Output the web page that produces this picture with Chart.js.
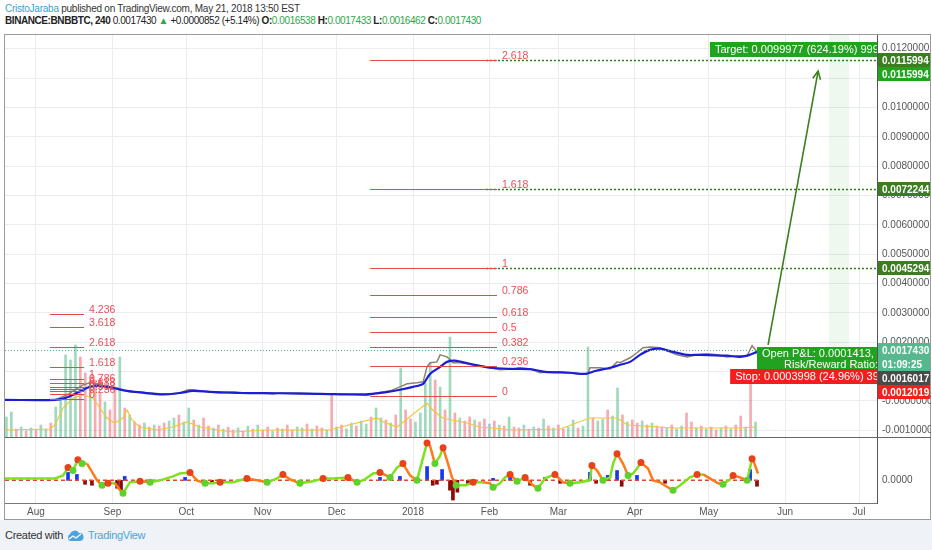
<!DOCTYPE html>
<html>
<head>
<meta charset="utf-8">
<script src="https://cdn.jsdelivr.net/npm/chart.js@4/dist/chart.umd.min.js"></script>
<style>
  html, body { margin: 0; padding: 0; width: 932px; height: 550px; overflow: hidden; background: #fff;
    font-family: "Liberation Sans", Arial, sans-serif; }
  .hdr { position: absolute; left: 5px; white-space: nowrap; color: #333; }
  #hdr1 { top: 3px; font-size: 10px; letter-spacing: -0.25px; }
  #hdr2 { top: 15px; font-size: 10px; letter-spacing: -0.42px; color: #222; }
  .up { color: #2ea84a; }
  #frame { position: absolute; left: 4px; top: 34px; width: 927px; height: 486px; border: 1px solid #9a9a9a; box-sizing: border-box; }
  #wrapA { position: absolute; left: 5px; top: 35px; width: 926px; height: 402px; }
  #wrapB { position: absolute; left: 5px; top: 437px; width: 926px; height: 82px; border-top: 1px solid #666; box-sizing: border-box; }
  #footer { position: absolute; left: 0; top: 520px; width: 932px; height: 30px; background: #eff2f6; }
  #footer span { position: absolute; top: 9px; font-size: 11px; letter-spacing: -0.3px; }
</style>
</head>
<body>
<div id="hdr1" class="hdr"><span style="color:#3a9fd8">CristoJaraba</span> published on TradingView.com, May 21, 2018 13:50 EST</div>
<div id="hdr2" class="hdr"><b>BINANCE:BNBBTC, 240</b> 0.0017430 <span class="up">&#9650;</span> +0.0000852 (+5.14%) <b>O:</b><span class="up">0.0016538</span> <b>H:</b><span class="up">0.0017433</span> <b>L:</b><span class="up">0.0016462</span> <b>C:</b><span class="up">0.0017430</span></div>
<div id="frame"></div>
<div id="wrapA"><canvas id="main"></canvas></div>
<div id="wrapB"><canvas id="osc"></canvas></div>
<div id="footer">
  <span style="left:5px;color:#333">Created with</span>
  <svg style="position:absolute;left:66px;top:10px" width="18" height="12" viewBox="0 0 18 12">
    <path d="M4 11 A4 4 0 0 1 4 4 A5 5 0 0 1 13 3 A4 4 0 0 1 14 11 Z" fill="#4aa3df"/>
    <path d="M3 9 L7 6 L10 8 L15 4" stroke="#fff" stroke-width="1.4" fill="none"/>
  </svg>
  <span style="left:88px;color:#4aa3df">TradingView</span>
</div>
<script>
// x values are days counted from 1 Aug 2017
const monthDays = [0, 31, 61, 92, 122, 153, 184, 212, 243, 273, 304, 334];
const monthLabels = ["Aug", "Sep", "Oct", "Nov", "Dec", "2018", "Feb", "Mar", "Apr", "May", "Jun", "Jul"];
const priceTicks = [-0.001, 0, 0.001, 0.002, 0.003, 0.004, 0.005, 0.006, 0.007, 0.008, 0.009, 0.010, 0.011, 0.012];

const priceDays = [-12.6, 7.7, 9.7, 12.6, 15.8, 19.1, 21.9, 24.8, 27.2, 30, 32.9, 35.3, 38.1, 42.2, 46.3, 51.5, 55.6, 58.4,
  61.7, 63.7, 66.6, 70.6, 74.7, 80, 85.6, 90.9, 96.2, 99, 107, 115.3, 123.4, 128.7, 134.3, 138.4, 143.7, 147.7, 150.6,
  154.6, 157.1, 158.7, 159.9, 162.7, 164, 166.8, 169.2, 172.1, 176.1, 180.2, 184.3, 188.3, 192.4, 196.4, 200.5, 204.5,
  208.6, 212.7, 215.5, 220.8, 224, 224.8, 228.9, 233, 235.8, 237, 241.1, 243.9, 246.3, 249.2, 253.2, 256.1, 260.1,
  264.2, 268.3, 272.3, 276.4, 280.4, 284.5, 288.6, 290.6, 292.6, 293.4];
const priceClose = [0.000034, 0.000034, 0.000102, 0.000205, 0.000376, 0.000547, 0.000615, 0.000581, 0.000512, 0.000478,
  0.000444, 0.000376, 0.000307, 0.000307, 0.000273, 0.000239, 0.000239, 0.000273, 0.000376, 0.000376, 0.000342, 0.000307,
  0.000273, 0.000307, 0.000273, 0.000273, 0.000239, 0.000273, 0.000273, 0.000239, 0.000239, 0.000222, 0.000181, 0.000273,
  0.000342, 0.000478, 0.000581, 0.000615, 0.000649, 0.00116, 0.0013, 0.00133, 0.00157, 0.0015, 0.0013, 0.0013, 0.00126,
  0.0012, 0.00113, 0.00106, 0.00109, 0.00113, 0.00109, 0.000956, 0.000991, 0.000991, 0.000956, 0.000922, 0.000922,
  0.00113, 0.00113, 0.00109, 0.00133, 0.0013, 0.00147, 0.00164, 0.00181, 0.00184, 0.00181, 0.00171, 0.00157, 0.0015,
  0.00157, 0.00161, 0.00157, 0.0015, 0.00154, 0.00154, 0.00188, 0.00167, 0.001743];

const emaDays = [-12.6, 7.7, 11.8, 15.8, 19.9, 23.1, 26, 31.3, 36.9, 42.2, 51.5, 58.4, 63.7, 70.6, 82.8, 99, 115.3, 131.5,
  136.4, 141.6, 147.7, 153, 157.1, 159.9, 164, 166.8, 170, 176.1, 184.3, 192.4, 200.5, 206.6, 216.7, 222.8, 226.9, 233,
  237, 241.1, 245.1, 249.2, 253.2, 258.5, 264.2, 269.5, 280.4, 285.7, 289, 292.6];
const emaValues = [0.000034, 0.000034, 0.0001, 0.00024, 0.00041, 0.00051, 0.00051, 0.00044, 0.00034, 0.00029, 0.00022,
  0.00027, 0.00034, 0.00031, 0.00027, 0.00026, 0.00024, 0.00022, 0.00024, 0.00029, 0.00038, 0.00048, 0.00058, 0.00092,
  0.00116, 0.00133, 0.00137, 0.00126, 0.00113, 0.00109, 0.00108, 0.00099, 0.00096, 0.00092, 0.00102, 0.00113, 0.00123,
  0.00133, 0.00157, 0.00174, 0.00178, 0.00167, 0.00157, 0.00157, 0.00154, 0.0015, 0.00155, 0.00167];

// volume, one bar every two days from day -12
const volStart = -12;
const volume = [20, 25, 8, 10, 6, 9, 7, 12, 8, 14, 30, 40, 82, 77, 92, 80, 64, 55, 57, 44, 35, 27, 50, 80, 29, 22, 15, 12,
  14, 10, 12, 11, 14, 16, 19, 22, 15, 29, 17, 12, 19, 11, 9, 12, 8, 10, 7, 9, 6, 11, 8, 12, 7, 10, 6, 9, 8, 12, 7, 10, 9,
  13, 8, 11, 9, 7, 42, 10, 12, 8, 14, 11, 16, 13, 20, 29, 19, 17, 14, 22, 69, 27, 18, 15, 24, 54, 74, 57, 50, 27, 100, 24,
  19, 16, 20, 17, 15, 18, 13, 16, 12, 11, 20, 10, 9, 12, 8, 10, 9, 18, 11, 9, 12, 8, 10, 17, 9, 11, 90, 19, 16, 18, 27, 21,
  49, 22, 15, 17, 14, 16, 12, 14, 11, 10, 9, 12, 8, 11, 24, 15, 9, 11, 8, 10, 7, 9, 11, 8, 12, 21, 10, 55, 15];
const volUp = [1, 1, 0, 1, 0, 1, 0, 1, 1, 0, 1, 1, 1, 1, 1, 0, 0, 1, 0, 0, 1, 0, 0, 1, 0, 1, 0, 0, 1, 0, 1, 0, 0, 1, 1, 0,
  1, 1, 0, 1, 0, 0, 1, 0, 1, 0, 0, 1, 0, 1, 0, 1, 0, 0, 1, 0, 1, 0, 0, 1, 1, 0, 1, 0, 0, 1, 0, 1, 0, 1, 1, 0, 1, 1, 0, 1,
  1, 0, 1, 0, 1, 0, 0, 1, 1, 1, 1, 0, 1, 0, 1, 0, 1, 0, 0, 1, 0, 0, 1, 0, 1, 0, 1, 0, 0, 1, 0, 1, 0, 1, 0, 1, 0, 0, 1, 1,
  0, 1, 1, 0, 1, 1, 0, 1, 1, 0, 1, 0, 0, 1, 0, 1, 0, 0, 1, 0, 1, 1, 0, 0, 1, 0, 1, 0, 0, 1, 0, 1, 0, 0, 1, 0, 1];
const volMaDays = [-12.6, 5.7, 7.7, 11, 15, 19, 23, 26, 28.8, 32, 35.3, 37, 39, 42, 49, 55.6, 61.3, 66.6, 73.5, 80, 93.8,
  119, 138.4, 141, 146.5, 158.7, 161, 165, 169, 175, 180, 193.6, 212.7, 224.8, 235.8, 240, 258.5, 285.7, 292.6];
const volMa = [7, 8, 12, 29, 39, 42, 39, 29, 19, 14, 19, 27, 17, 10, 7, 10, 15, 10, 7, 5, 7, 7, 19, 15, 10, 34, 27, 19, 17,
  14, 10, 7, 8, 19, 19, 12, 9, 9, 10];

// oscillator pane
const oscDays = [-12.6, -6.5, 1.6, 7.7, 11, 13, 15, 17, 18.7, 20.7, 23.1, 24.8, 26.8, 29.2, 32.1, 34.1, 35.3, 38.1, 42.2,
  46.3, 50.3, 55.6, 58.4, 62.5, 65.3, 68.6, 71.8, 74.7, 80, 85.6, 89.7, 93.8, 97.8, 100.2, 103.1, 107.1, 112.4, 116.5,
  120.5, 126.6, 130.3, 133.5, 136.8, 139.6, 143.7, 146.5, 148.9, 151.8, 154.6, 158.7, 159.9, 161.9, 164, 165.2, 167.2,
  168.8, 170.5, 174.5, 177.4, 181.4, 184.3, 185.5, 188.3, 190.3, 192.4, 195.2, 198.5, 201.7, 203.7, 206.6, 210.6, 213.9,
  216.7, 220.8, 224.8, 225.6, 227.7, 230.1, 233, 234.2, 235.8, 238.2, 240.3, 242.3, 243.9, 245.5, 248.4, 250.4, 253.2,
  255.7, 258.5, 261.4, 265.4, 268.3, 270.7, 273.5, 276.8, 278.8, 281.7, 282.9, 285.7, 288.6, 290.6, 291.4, 293];
const oscValues = [2, 2, 2, 2, 5, 13, 10, 21, 17, 17, 7, 0, -5, -3, -3, -10, -13, -2, -1, -2, 0, 4, 7, 8, 0, -3, -3, -2,
  -2, 2, 0, -2, 2, 6, 1, -3, -1, 2, 2, 3, -2, 1, 7, 8, 3, 13, 17, 5, 0, 38, 35, 17, 25, 33, 17, 3, -5, -5, -2, -2, -3, -7,
  -3, 3, 6, -1, 3, -5, -8, 2, 6, -2, -3, -2, 0, 15, 10, 0, 3, 17, 27, 17, 5, 7, 12, 18, 12, 0, -2, -6, -10, -5, 3, 6, 6, 2,
  -3, -4, 1, 5, 3, 0, 22, 18, 7];
const histDays = [13, 16.6, 19.9, 22.7, 32.9, 34.5, 36, 60.5, 68.6, 71.4, 107, 139.6, 147.7, 158.7, 161, 162.7, 164.8, 168,
  169.2, 171, 175.3, 185.5, 192.4, 200.5, 206.6, 212.7, 224.8, 227.3, 232, 235.8, 237.7, 243.9, 255.3, 289.8, 292.6];
const histValues = [8, 6, -4, -5, -8, -10, 4, 3, -4, -3, -3, 3, 4, 14, -5, -4, 11, -10, -20, -12, -4, 2, 3, -5, 3, -3, 8,
  -3, 5, 10, -6, 5, -3, 11, -6];

// drawings
const fibRatios = [0, 0.236, 0.382, 0.5, 0.618, 0.786, 1, 1.618, 2.618, 3.618, 4.236];
const fibAug = { from: 5.7, to: 19.5, base: 0.00007, top: 0.00075, levels: 11 };
const fibDec = { from: 135.6, to: 187.1, base: 0.00016, top: 0.00453, levels: 9 };
const targetLines = [0.0115994, 0.0072244, 0.0045294];
const targetLineStart = 182.6;
const lastPrice = 0.001743;
const axisMarks = [
  { text: "0.0115994", v: 0.0115994, bg: "#3c7d22" },
  { text: "0.0115994", v: 0.0115994, bg: "#1ea51e" },
  { text: "0.0072244", v: 0.0072244, bg: "#3c7d22" },
  { text: "0.0045294", v: 0.0045294, bg: "#3c7d22" },
  { text: "0.0017430", v: 0.001743, bg: "#55b88e" },
  { text: "01:09:25", v: 0.001743, bg: "#55b88e" },
  { text: "0.0016017", v: 0.0016017, bg: "#4a4a4a" },
  { text: "0.0012019", v: 0.0012019, bg: "#f51f1f" }
];

const X_MIN = -12.58, X_MAX = 341.3;
const FONT = "'Liberation Sans', Arial, sans-serif";
const GRID = "#e9ecf1";

const pts = (xs, ys) => xs.map((x, i) => ({ x: x, y: ys[i] }));
const monthTicks = s => { s.ticks = monthDays.map(v => ({ value: v })); };
const noPad = s => { s.paddingTop = 0; s.paddingBottom = 0; s.paddingLeft = 0; s.paddingRight = 0; };

const drawings = {
  id: "drawings",
  beforeDatasetsDraw(chart) {
    const { ctx, chartArea: a, scales: { x, y } } = chart;
    ctx.save();
    ctx.fillStyle = "rgba(76,175,80,0.09)";
    const bx = x.getPixelForValue(321.8), bx2 = x.getPixelForValue(330);
    ctx.fillRect(bx, a.top, bx2 - bx, y.getPixelForValue(0.0017) - a.top);
    ctx.restore();
  },
  afterDatasetsDraw(chart) {
    const { ctx, chartArea: a, scales: { x, y } } = chart;
    ctx.save();
    // last price line
    ctx.strokeStyle = "#4fae8a"; ctx.lineWidth = 1; ctx.setLineDash([1, 2]);
    let py = Math.round(y.getPixelForValue(lastPrice)) + 0.5;
    ctx.beginPath(); ctx.moveTo(a.left, py); ctx.lineTo(a.right, py); ctx.stroke();
    // target lines
    ctx.strokeStyle = "#2f7a1c"; ctx.lineWidth = 1.6; ctx.setLineDash([2, 2]);
    targetLines.forEach(v => {
      const ly = Math.round(y.getPixelForValue(v)) + 0.5;
      ctx.beginPath(); ctx.moveTo(x.getPixelForValue(targetLineStart), ly); ctx.lineTo(a.right, ly); ctx.stroke();
    });
    ctx.setLineDash([]);
    // fibonacci
    ctx.font = "10.5px " + FONT; ctx.textBaseline = "alphabetic";
    [fibAug, fibDec].forEach(f => {
      const x1 = x.getPixelForValue(f.from), x2 = x.getPixelForValue(f.to);
      fibRatios.slice(0, f.levels).forEach(r => {
        const ly = Math.round(y.getPixelForValue(f.base + r * (f.top - f.base))) + 0.5;
        ctx.strokeStyle = "#e5484f"; ctx.lineWidth = 1;
        ctx.beginPath(); ctx.moveTo(x1, ly); ctx.lineTo(x2, ly); ctx.stroke();
        ctx.fillStyle = "#ee4d56";
        ctx.fillText(String(r), x2 + 5, ly - 2);
      });
    });
    // arrow
    const ax1 = x.getPixelForValue(297.1), ay1 = y.getPixelForValue(0.00191);
    const ax2 = x.getPixelForValue(317.4), ay2 = y.getPixelForValue(0.01124);
    ctx.strokeStyle = "#3b7f1f"; ctx.lineWidth = 1.6;
    ctx.beginPath(); ctx.moveTo(ax1, ay1); ctx.lineTo(ax2, ay2); ctx.stroke();
    const ang = Math.atan2(ay2 - ay1, ax2 - ax1);
    ctx.beginPath();
    ctx.moveTo(ax2 - 9 * Math.cos(ang - 0.45), ay2 - 9 * Math.sin(ang - 0.45));
    ctx.lineTo(ax2, ay2);
    ctx.lineTo(ax2 - 9 * Math.cos(ang + 0.45), ay2 - 9 * Math.sin(ang + 0.45));
    ctx.stroke();
    ctx.restore();
  },
  afterDraw(chart) {
    const { ctx, chartArea: a, scales: { x, y } } = chart;
    ctx.save();
    ctx.beginPath(); ctx.rect(a.left, a.top, a.right - a.left, a.bottom - a.top); ctx.clip();
    ctx.font = "11px " + FONT; ctx.textBaseline = "middle";
    // target box
    let l = x.getPixelForValue(273.5), cy = Math.round(y.getPixelForValue(0.01199));
    ctx.fillStyle = "#21a321"; ctx.fillRect(l, cy - 7, a.right - l, 15);
    ctx.fillStyle = "#fff"; ctx.fillText("Target: 0.0099977 (624.19%) 9997.7", l + 5, cy + 1);
    // open P&L box
    l = x.getPixelForValue(292.6); let t = Math.round(y.getPixelForValue(0.001845));
    ctx.fillStyle = "#21a321"; ctx.fillRect(l, t, a.right - l, 22);
    ctx.fillStyle = "#fff";
    ctx.fillText("Open P&L: 0.0001413, Qty: 5000", l + 5, t + 7);
    ctx.fillText("Risk/Reward Ratio: 25.01", l + 27, t + 18);
    // stop box
    l = x.getPixelForValue(281.7); cy = Math.round(y.getPixelForValue(0.000854));
    ctx.fillStyle = "#f51d1d"; ctx.fillRect(l, cy - 7, a.right - l, 15);
    ctx.fillStyle = "#fff"; ctx.fillText("Stop: 0.0003998 (24.96%) 3998", l + 5, cy + 1);
    ctx.restore();
    // right axis price marks, stacked so they do not overlap
    ctx.save();
    ctx.font = "bold 10px " + FONT; ctx.textBaseline = "middle";
    let prev = -100;
    axisMarks.forEach(m => {
      let my = Math.round(y.getPixelForValue(m.v));
      if (my < prev + 14) my = prev + 14;
      prev = my;
      ctx.fillStyle = m.bg; ctx.fillRect(a.right + 1, my - 7, chart.width - a.right - 2, 14);
      ctx.fillStyle = "#fff"; ctx.fillText(m.text, a.right + 5, my + 1);
    });
    ctx.restore();
  }
};

new Chart(document.getElementById("main"), {
  type: "line",
  data: {
    datasets: [
      { type: "bar", yAxisID: "vol", data: pts(volume.map((v, i) => volStart + 2 * i), volume), barThickness: 2,
        backgroundColor: volUp.map(u => u ? "rgba(83,185,135,0.55)" : "rgba(235,90,100,0.5)"), order: 10 },
      { yAxisID: "vol", data: pts(volMaDays, volMa), borderColor: "#f3c53a", borderWidth: 1.2, pointRadius: 0, order: 9 },
      { data: pts(priceDays, priceClose), borderColor: "#8e8270", borderWidth: 1.5, pointRadius: 0, order: 2 },
      { data: pts(emaDays, emaValues), borderColor: "#1d1dd6", borderWidth: 2.2, pointRadius: 0, tension: 0.3, order: 1 }
    ]
  },
  options: {
    animation: false, responsive: true, maintainAspectRatio: false,
    layout: { padding: 0 },
    plugins: { legend: { display: false }, tooltip: { enabled: false } },
    scales: {
      x: { type: "linear", min: X_MIN, max: X_MAX, offset: false, afterBuildTicks: monthTicks,
        afterFit: s => { s.height = 0; noPad(s); },
        ticks: { display: false }, grid: { color: GRID, drawTicks: false, offset: false }, border: { display: false } },
      y: { position: "right", min: -0.00123, max: 0.012468,
        afterBuildTicks: s => { s.ticks = priceTicks.map(v => ({ value: v })); },
        afterFit: s => { s.width = 54; noPad(s); },
        ticks: { callback: v => v === 0 ? "-0.0000000" : v.toFixed(7), color: "#555", font: { size: 10, family: FONT }, padding: 5 },
        grid: { color: GRID, drawTicks: false }, border: { color: "#555" } },
      vol: { display: false, min: 0, max: 402 }
    }
  },
  plugins: [drawings]
});

const isPeak = i => i > 0 && i < oscValues.length - 1 && oscValues[i] > oscValues[i - 1] && oscValues[i] >= oscValues[i + 1];
const isTrough = i => i > 0 && i < oscValues.length - 1 && oscValues[i] < oscValues[i - 1] && oscValues[i] <= oscValues[i + 1];

new Chart(document.getElementById("osc"), {
  type: "line",
  data: {
    datasets: [
      { type: "bar", data: pts(histDays, histValues), barThickness: 3,
        backgroundColor: histValues.map(v => v > 0 ? "#1638f0" : "#8a0c0c"), order: 10 },
      { data: pts([priceDays[0], priceDays[priceDays.length - 1]], [0, 0]), borderColor: "#e2482c", borderWidth: 1.5,
        borderDash: [4, 3], pointRadius: 0, order: 5 },
      { data: pts(oscDays, oscValues), borderWidth: 2.5, order: 1,
        segment: { borderColor: c => c.p1.parsed.y >= c.p0.parsed.y ? "#7fe01f" : "#ff7a1c" },
        pointRadius: c => (isPeak(c.dataIndex) || isTrough(c.dataIndex)) ? 3.5 : 0,
        pointBorderWidth: 0,
        pointBackgroundColor: c => isPeak(c.dataIndex) ? "#e8421c" : "#5fd12c" }
    ]
  },
  options: {
    animation: false, responsive: true, maintainAspectRatio: false,
    layout: { padding: 0 },
    plugins: { legend: { display: false }, tooltip: { enabled: false } },
    scales: {
      x: { type: "linear", min: X_MIN, max: X_MAX, offset: false, afterBuildTicks: monthTicks,
        afterFit: s => { s.height = 16; noPad(s); },
        ticks: { callback: (v, i) => monthLabels[i], color: "#555", font: { size: 10, family: FONT }, padding: 3, maxRotation: 0 },
        grid: { color: GRID, drawTicks: false, offset: false }, border: { color: "#777" } },
      y: { position: "right", min: -23, max: 43,
        afterBuildTicks: s => { s.ticks = [{ value: 0 }]; },
        afterFit: s => { s.width = 54; noPad(s); },
        ticks: { callback: () => "0.0000", color: "#555", font: { size: 10, family: FONT }, padding: 5 },
        grid: { display: false, drawTicks: false }, border: { color: "#555" } }
    }
  }
});
</script>
</body>
</html>
